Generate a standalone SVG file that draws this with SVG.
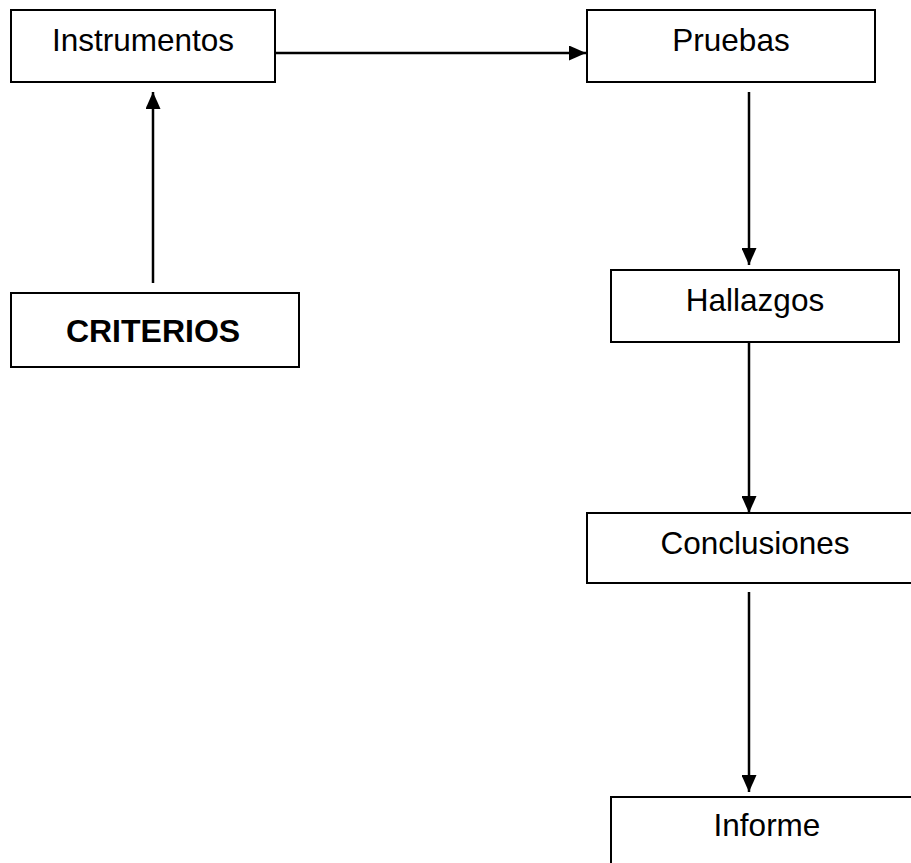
<svg xmlns="http://www.w3.org/2000/svg" width="911" height="863" viewBox="0 0 911 863">
<style>
.box{fill:#fff;stroke:#000;stroke-width:2}
.lbl{font-family:"Liberation Sans",Arial,sans-serif;font-size:31.5px;fill:#000;text-anchor:middle}
.bold{font-weight:bold;font-size:32px}
.conn{stroke:#000;stroke-width:2.5;fill:none;marker-end:url(#ah)}
</style>
<defs>
<marker id="ah" markerUnits="userSpaceOnUse" markerWidth="17" markerHeight="15" refX="17" refY="7.5" orient="auto">
<path d="M0,0 L17,7.5 L0,15 Z" fill="#000"/>
</marker>
</defs>
<rect width="911" height="863" fill="#fff"/>
<g id="instrumentos"><rect class="box" x="11" y="10" width="264" height="72"/><text class="lbl" x="143" y="51">Instrumentos</text></g>
<g id="pruebas"><rect class="box" x="587" y="10" width="288" height="72"/><text class="lbl" x="731" y="51">Pruebas</text></g>
<g id="criterios"><rect class="box" x="11" y="293" width="288" height="74"/><text class="lbl bold" x="153" y="342">CRITERIOS</text></g>
<g id="hallazgos"><rect class="box" x="611" y="270" width="288" height="72"/><text class="lbl" x="755" y="311">Hallazgos</text></g>
<g id="conclusiones"><rect class="box" x="587" y="513" width="336" height="70"/><text class="lbl" x="755" y="554">Conclusiones</text></g>
<g id="informe"><rect class="box" x="611" y="797" width="314" height="90"/><text class="lbl" x="767" y="836">Informe</text></g>
<g id="connectors">
<line class="conn" x1="153" y1="283" x2="153" y2="92"/>
<line class="conn" x1="276" y1="53" x2="586" y2="53"/>
<line class="conn" x1="749" y1="92" x2="749" y2="265"/>
<line class="conn" x1="749" y1="342" x2="749" y2="513"/>
<line class="conn" x1="749" y1="592" x2="749" y2="792"/>
</g>
</svg>
